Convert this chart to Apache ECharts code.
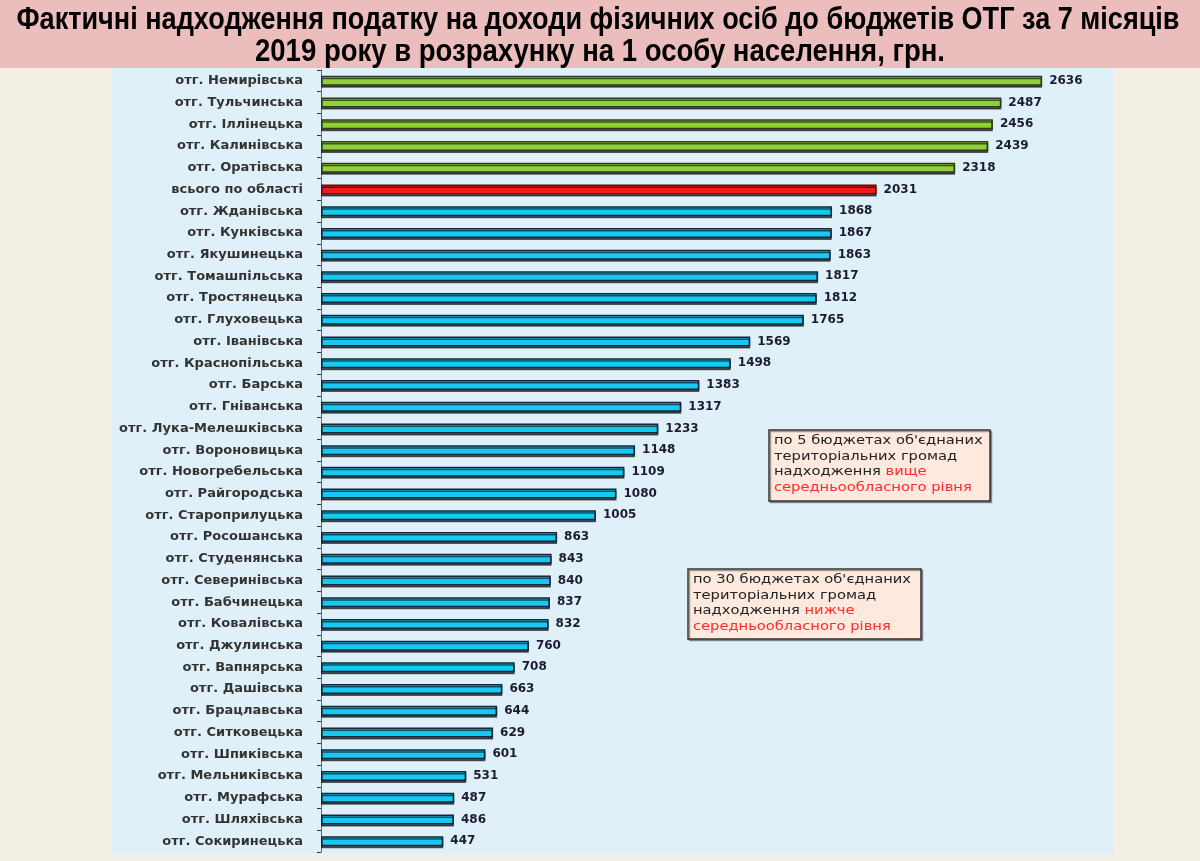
<!DOCTYPE html>
<html>
<head>
<meta charset="utf-8">
<style>
  html, body { margin: 0; padding: 0; background: #f3efe5; }
  #chart { width: 1200px; height: 861px; }
</style>
<script src="https://cdn.jsdelivr.net/npm/echarts@6/dist/echarts.min.js"></script>
</head>
<body>
<div id="chart"></div>
<script>
const titleLines = [
  'Фактичні надходження податку на доходи фізичних осіб до бюджетів ОТГ за 7 місяців',
  '2019 року в розрахунку на 1 особу населення, грн.'
];
const totalName = 'всього по області';
const categories = [
  'отг. Немирівська', 'отг. Тульчинська', 'отг. Іллінецька', 'отг. Калинівська', 'отг. Оратівська',
  'всього по області',
  'отг. Жданівська', 'отг. Кунківська', 'отг. Якушинецька', 'отг. Томашпільська', 'отг. Тростянецька',
  'отг. Глуховецька', 'отг. Іванівська', 'отг. Краснопільська', 'отг. Барська', 'отг. Гніванська',
  'отг. Лука-Мелешківська', 'отг. Вороновицька', 'отг. Новогребельська', 'отг. Райгородська',
  'отг. Староприлуцька', 'отг. Росошанська', 'отг. Студенянська', 'отг. Северинівська',
  'отг. Бабчинецька', 'отг. Ковалівська', 'отг. Джулинська', 'отг. Вапнярська', 'отг. Дашівська',
  'отг. Брацлавська', 'отг. Ситковецька', 'отг. Шпиківська', 'отг. Мельниківська', 'отг. Мурафська',
  'отг. Шляхівська', 'отг. Сокиринецька'
];
const values = [
  2636, 2487, 2456, 2439, 2318,
  2031,
  1868, 1867, 1863, 1817, 1812,
  1765, 1569, 1498, 1383, 1317,
  1233, 1148, 1109, 1080,
  1005, 863, 843, 840,
  837, 832, 760, 708, 663,
  644, 629, 601, 531, 487,
  486, 447
];
const noteAbove = ['по 5 бюджетах об\'єднаних', 'територіальних громад', 'надходження ', 'вище', 'середньообласного рівня'];
const noteBelow = ['по 30 бюджетах об\'єднаних', 'територіальних громад', 'надходження ', 'нижче', 'середньообласного рівня'];

const totalValue = values[categories.indexOf(totalName)];
const styleFor = (name, v) => {
  if (name === totalName) return { color: '#ee1c1c', borderColor: '#6a0a0a' };
  if (v > totalValue) return { color: '#90d13a', borderColor: '#2f3a1a' };
  return { color: '#19c8f0', borderColor: '#10283e' };
};
const seriesData = categories.map((c, i) => ({
  value: values[i],
  itemStyle: Object.assign({ borderWidth: 1.5, shadowColor: 'rgba(0,0,0,0.6)', shadowOffsetY: 2, shadowBlur: 0 }, styleFor(c, values[i]))
}));

// fit title text width
const cv = document.createElement('canvas').getContext('2d');
function fitScale(text, font, target) {
  cv.font = font;
  return target / cv.measureText(text).width;
}
const titleFont = 'bold 31px "Liberation Sans", Arial, sans-serif';
const s1 = fitScale(titleLines[0], titleFont, 1163);
const s2 = fitScale(titleLines[1], titleFont, 690);
const noteFont = '12.5px "DejaVu Sans"';
const ns = fitScale(noteBelow[0], noteFont, 218);

function noteBox(x, y, w, h, lines) {
  return {
    type: 'group', x: x, y: y, children: [
      { type: 'rect', shape: { x: 0, y: 0, width: w, height: h },
        style: { fill: '#fde9dd', stroke: '#333', lineWidth: 1.5, shadowColor: 'rgba(0,0,0,0.35)', shadowOffsetX: 1.5, shadowOffsetY: 1.5 } },
      { type: 'text', x: 5, y: 3, scaleX: ns,
        style: {
          text: '{a|' + lines[0] + '}\n{a|' + lines[1] + '}\n{a|' + lines[2] + '}{r|' + lines[3] + '}\n{r|' + lines[4] + '}',
          rich: {
            a: { fontFamily: 'DejaVu Sans', fontSize: 12.5, fill: '#222', lineHeight: 15.5 },
            r: { fontFamily: 'DejaVu Sans', fontSize: 12.5, fill: '#ff2a2a', lineHeight: 15.5 }
          }
        } }
    ]
  };
}

const chart = echarts.init(document.getElementById('chart'), null, { renderer: 'canvas' });
chart.setOption({
  backgroundColor: '#f3efe5',
  animation: false,
  graphic: [
    { type: 'rect', z: -10, shape: { x: 0, y: 0, width: 1200, height: 68 }, style: { fill: '#ecbdbd' } },
    { type: 'rect', z: -10, shape: { x: 112, y: 68, width: 1001, height: 786 }, style: { fill: '#dff0f8' } },
    { type: 'text', x: 598, y: 20, scaleX: s1, style: { text: titleLines[0], font: titleFont, fill: '#000', align: 'center', verticalAlign: 'middle' } },
    { type: 'text', x: 600, y: 52, scaleX: s2, style: { text: titleLines[1], font: titleFont, fill: '#000', align: 'center', verticalAlign: 'middle' } },
    noteBox(769, 430, 221, 71, noteAbove),
    noteBox(688, 569, 233, 70, noteBelow)
  ],
  grid: { left: 321, right: 113, top: 70, bottom: 9, containLabel: false },
  xAxis: { type: 'value', min: 0, max: 2800, show: false },
  yAxis: {
    type: 'category', data: categories, inverse: true,
    axisLine: { show: true, lineStyle: { color: '#666', width: 1 } },
    axisTick: { show: true, length: 4, lineStyle: { color: '#333' } },
    axisLabel: { margin: 18, fontFamily: 'DejaVu Sans', fontWeight: 'bold', fontSize: 13, color: '#333' }
  },
  series: [{
    type: 'bar', data: seriesData, barWidth: 10,
    label: { show: true, position: 'right', distance: 7, fontFamily: 'DejaVu Sans', fontWeight: 'bold', fontSize: 12, color: '#1b1b33' }
  }]
});
</script>
</body>
</html>
